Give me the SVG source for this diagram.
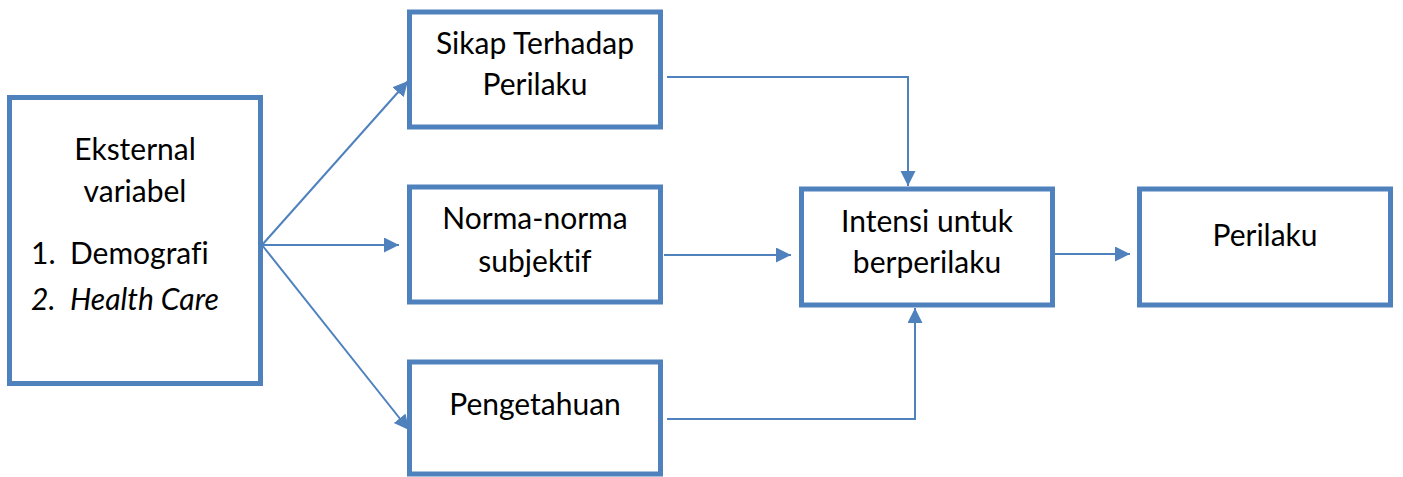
<svg xmlns="http://www.w3.org/2000/svg" width="1403" height="477" viewBox="0 0 1403 477">
<style>
.box{fill:#fff;stroke:#4F81BD;stroke-width:5}
.ln{fill:none;stroke:#4F81BD;stroke-width:2}
text{font-family:Lato,"Liberation Sans",sans-serif;font-size:30px;fill:#000;font-variant-ligatures:none}
.c{text-anchor:middle}
.i{font-style:italic}
</style>
<defs>
<marker id="ah" markerUnits="userSpaceOnUse" markerWidth="16" markerHeight="16" refX="15" refY="7.5" orient="auto">
<path d="M0,0 L15,7.5 L0,15 z" fill="#4F81BD"/>
</marker>
</defs>
<g id="connectors">
<line class="ln" x1="262" y1="245" x2="408" y2="81" marker-end="url(#ah)"/>
<line class="ln" x1="262" y1="245" x2="399" y2="245" marker-end="url(#ah)"/>
<line class="ln" x1="262" y1="245" x2="409" y2="430" marker-end="url(#ah)"/>
<polyline class="ln" points="667,77 908,77 908,186" marker-end="url(#ah)"/>
<line class="ln" x1="664" y1="255" x2="791" y2="255" marker-end="url(#ah)"/>
<polyline class="ln" points="667,419 915,419 915,308" marker-end="url(#ah)"/>
<line class="ln" x1="1055" y1="254" x2="1130" y2="254" marker-end="url(#ah)"/>
</g>
<g id="eksternal">
<rect class="box" x="9.5" y="97.5" width="251" height="286"/>
<text class="c" x="135" y="160">Eksternal</text>
<text class="c" x="135" y="202">variabel</text>
<text x="31" y="264">1.</text><text x="70" y="264">Demografi</text>
<text class="i" x="31" y="310">2.</text><text class="i" x="70" y="310">Health Care</text>
</g>
<g id="sikap">
<rect class="box" x="409.5" y="12" width="251" height="115"/>
<text class="c" x="535" y="54">Sikap Terhadap</text>
<text class="c" x="535" y="95">Perilaku</text>
</g>
<g id="norma">
<rect class="box" x="409.5" y="187" width="251" height="115"/>
<text class="c" x="535" y="229">Norma-norma</text>
<text class="c" x="535" y="272">subjektif</text>
</g>
<g id="pengetahuan">
<rect class="box" x="409.5" y="362" width="251" height="112"/>
<text class="c" x="535" y="415">Pengetahuan</text>
</g>
<g id="intensi">
<rect class="box" x="801.5" y="189" width="251" height="116"/>
<text class="c" x="927" y="232">Intensi untuk</text>
<text class="c" x="927" y="273">berperilaku</text>
</g>
<g id="perilaku">
<rect class="box" x="1139.5" y="189" width="251" height="116"/>
<text class="c" x="1265" y="246">Perilaku</text>
</g>
</svg>
